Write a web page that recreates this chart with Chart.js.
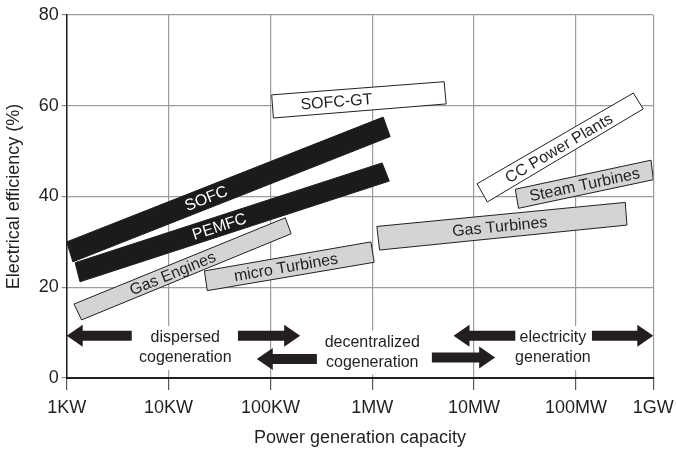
<!DOCTYPE html>
<html>
<head>
<meta charset="utf-8">
<script src="https://cdn.jsdelivr.net/npm/chart.js@4"></script>
<style>
  html, body { margin: 0; padding: 0; background: #fff; }
  #wrap { width: 676px; height: 452px; }
</style>
</head>
<body>
<div id="wrap"><canvas id="grafico"></canvas></div>
<script>
// eixo x: capacidade em kW (escala log), o ultimo rotulo fica na borda
const xTicks = [1, 10, 100, 1e3, 1e4, 1e5, 575000];
const xTickLabels = ['1KW', '10KW', '100KW', '1MW', '10MW', '100MW', '1GW'];
const yTicks = [0, 20, 40, 60, 80];

// cantos de cada faixa: sup-esq, sup-dir, inf-dir, inf-esq (kW / %)
const sofcCap = [1.0, 1280, 1500, 1.15];
const sofcEff = [30.0, 57.5, 53.2, 25.6];
const pemfcCap = [1.21, 1250, 1470, 1.35];
const pemfcEff = [25.4, 47.4, 43.4, 21.2];
const gasEngCap = [1.18, 140, 160, 1.4];
const gasEngEff = [16.3, 35.3, 31.8, 12.8];
const microTurbCap = [22.5, 970, 1045, 24];
const microTurbEff = [23.6, 30.0, 25.5, 19.25];
const sofcGtCap = [103, 5080, 5320, 107];
const sofcGtEff = [62.4, 65.3, 60.4, 57.3];
const gasTurbCap = [1110, 305000, 317000, 1180];
const gasTurbEff = [33.4, 38.7, 33.7, 28.2];
const ccCap = [10700, 366000, 458000, 13500];
const ccEff = [42.8, 62.8, 59.3, 38.8];
const steamCap = [25400, 546000, 575000, 27300];
const steamEff = [41.6, 48.0, 43.7, 37.4];

// setas de faixa de aplicacao: cauda -> ponta, na altura arrowEff
const arrowFrom = [4.35, 48, 286, 3850, 25400, 143600];
const arrowTo = [1, 196, 73.5, 16100, 6280, 575000];
const arrowEff = [9.3, 9.3, 4.2, 4.5, 9.3, 9.3];

const rangeNames = [['dispersed', 'cogeneration'], ['decentralized', 'cogeneration'], ['electricity', 'generation']];
const rangeCap = [14.6, 1000, 59400];
const rangeEff = [6.6, 5.6, 6.6];

const escuro = '#231f20';
const preto = '#1c1a1b';
const cinza = '#d3d4d6';

function faixa(nome, caps, effs, fundo, borda, corTexto, t) {
  const pts = caps.map((c, i) => ({ x: c, y: effs[i] }));
  pts.push(pts[0]);
  return {
    label: nome,
    data: pts,
    polyFill: fundo,
    textColor: corTexto,
    labelAt: t,
    borderColor: borda,
    borderWidth: 1,
    borderJoinStyle: 'miter',
    pointRadius: 0,
    fill: false,
    tension: 0
  };
}

const datasets = [
  faixa('SOFC', sofcCap, sofcEff, preto, preto, '#fff', 0.43),
  faixa('PEMFC', pemfcCap, pemfcEff, preto, preto, '#fff', 0.46),
  faixa('Gas Engines', gasEngCap, gasEngEff, cinza, escuro, escuro, 0.45),
  faixa('micro Turbines', microTurbCap, microTurbEff, cinza, escuro, escuro, 0.48),
  faixa('SOFC-GT', sofcGtCap, sofcGtEff, '#fff', escuro, escuro, 0.37),
  faixa('Gas Turbines', gasTurbCap, gasTurbEff, cinza, escuro, escuro, 0.49),
  faixa('CC Power Plants', ccCap, ccEff, '#fff', escuro, escuro, 0.49),
  faixa('Steam Turbines', steamCap, steamEff, cinza, escuro, escuro, 0.50)
];

const fonte = '"Liberation Sans", Arial, Helvetica, sans-serif';
Chart.defaults.font.family = fonte;
Chart.defaults.color = escuro;

const desenhos = {
  id: 'desenhos',
  beforeDatasetDraw(chart, args) {
    const ds = chart.data.datasets[args.index];
    if (!ds.polyFill) return;
    const ctx = chart.ctx;
    ctx.save();
    ctx.beginPath();
    args.meta.data.forEach((p, i) => (i ? ctx.lineTo(p.x, p.y) : ctx.moveTo(p.x, p.y)));
    ctx.closePath();
    ctx.fillStyle = ds.polyFill;
    ctx.fill();
    ctx.restore();
  },
  afterDatasetsDraw(chart) {
    const ctx = chart.ctx;
    const sx = chart.scales.x, sy = chart.scales.y;

    // rotulos das faixas
    chart.data.datasets.forEach((ds, i) => {
      const p = chart.getDatasetMeta(i).data;
      const lx = (p[0].x + p[3].x) / 2, ly = (p[0].y + p[3].y) / 2;
      const rx = (p[1].x + p[2].x) / 2, ry = (p[1].y + p[2].y) / 2;
      const cx = lx + ds.labelAt * (rx - lx), cy = ly + ds.labelAt * (ry - ly);
      ctx.save();
      ctx.translate(cx, cy);
      ctx.rotate(Math.atan2(ry - ly, rx - lx));
      ctx.font = '16px ' + fonte;
      ctx.fillStyle = ds.textColor;
      ctx.textAlign = 'center';
      ctx.textBaseline = 'middle';
      ctx.fillText(ds.label, 0, 1);
      ctx.restore();
    });

    // caixas brancas atras dos textos
    ctx.save();
    ctx.font = '16px ' + fonte;
    const blocos = rangeNames.map((linhas, i) => {
      const cx = sx.getPixelForValue(rangeCap[i]);
      const cy = sy.getPixelForValue(rangeEff[i]);
      const w = Math.max(...linhas.map(l => ctx.measureText(l).width));
      return { linhas, cx, cy, w };
    });
    ctx.fillStyle = '#fff';
    blocos.forEach(b => ctx.fillRect(b.cx - b.w / 2 - 3, b.cy - 22, b.w + 6, 44));

    // setas
    ctx.fillStyle = escuro;
    arrowFrom.forEach((de, i) => {
      const x1 = sx.getPixelForValue(de);
      const x2 = sx.getPixelForValue(arrowTo[i]);
      const y = sy.getPixelForValue(arrowEff[i]);
      const s = Math.sign(x2 - x1);
      const hx = x2 - s * 16;
      ctx.beginPath();
      ctx.moveTo(x1, y - 5);
      ctx.lineTo(hx, y - 5);
      ctx.lineTo(hx, y - 11);
      ctx.lineTo(x2, y);
      ctx.lineTo(hx, y + 11);
      ctx.lineTo(hx, y + 5);
      ctx.lineTo(x1, y + 5);
      ctx.closePath();
      ctx.fill();
    });

    ctx.textAlign = 'center';
    ctx.textBaseline = 'middle';
    blocos.forEach(b => {
      ctx.fillText(b.linhas[0], b.cx, b.cy - 10);
      ctx.fillText(b.linhas[1], b.cx, b.cy + 10);
    });
    ctx.restore();
  }
};

new Chart(document.getElementById('grafico'), {
  type: 'line',
  data: { datasets },
  plugins: [desenhos],
  options: {
    responsive: true,
    maintainAspectRatio: false,
    animation: false,
    devicePixelRatio: 1,
    layout: { padding: { left: 0, right: 22.7, top: 15, bottom: 0 } },
    plugins: { legend: { display: false }, tooltip: { enabled: false } },
    scales: {
      x: {
        type: 'logarithmic',
        min: 1,
        max: 575000,
        afterBuildTicks: s => { s.ticks = xTicks.map(v => ({ value: v })); },
        afterFit: s => { s.height = 74; s.paddingLeft = 0; s.paddingRight = 0; },
        ticks: {
          autoSkip: false,
          maxRotation: 0,
          padding: 7,
          color: escuro,
          font: { size: 18 },
          callback: (v, i) => xTickLabels[i]
        },
        grid: { color: '#9c9c9c', lineWidth: 1.2, tickLength: 12, tickColor: '#555' },
        border: { color: escuro, width: 2 },
        title: { display: true, text: 'Power generation capacity', font: { size: 18 }, color: escuro, padding: { top: 0, bottom: 3 } }
      },
      y: {
        min: 0,
        max: 80,
        afterBuildTicks: s => { s.ticks = yTicks.map(v => ({ value: v })); },
        afterFit: s => { s.width = 66.7; s.paddingTop = 0; s.paddingBottom = 0; },
        ticks: { padding: 3, color: escuro, font: { size: 18 } },
        grid: { color: '#9c9c9c', lineWidth: 1.2, tickLength: 5, tickColor: '#888' },
        border: { color: escuro, width: 1.5 },
        title: { display: true, text: 'Electrical efficiency (%)', font: { size: 18 }, color: escuro, padding: { top: 3, bottom: 0 } }
      }
    }
  }
});
</script>
</body>
</html>
